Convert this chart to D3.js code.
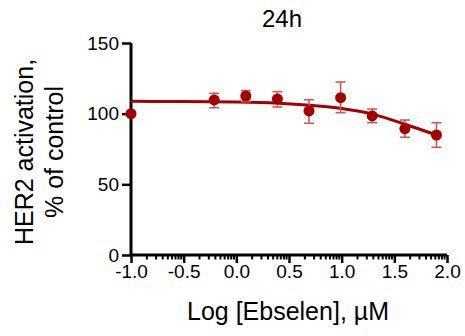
<!DOCTYPE html>
<html>
<head>
<meta charset="utf-8">
<script src="https://cdn.jsdelivr.net/npm/d3@7"></script>
<style>
  body { margin: 0; background: #fff; }
  text { font-family: "Liberation Sans", Arial, sans-serif; fill: #000; }
</style>
</head>
<body>
<div id="chart"></div>
<script>
// values
var logConc = [-1.0, -0.21, 0.09, 0.39, 0.69, 0.99, 1.29, 1.6, 1.9];
var meanVal = [100, 109.7, 112.5, 110.4, 101.9, 111.3, 98.4, 89.4, 84.9];
var errUp   = [0, 4.7, 3.8, 5.2, 8.0, 11.1, 4.9, 6.1, 8.7];
var errDown = [0, 5.5, 4.0, 5.7, 8.7, 10.6, 4.8, 6.1, 8.7];

// fitted curve
var fitX = [-1.0, -0.5, 0.0, 0.4, 0.7, 1.0, 1.3, 1.6, 1.9];
var fitY = [108.7, 108.6, 108.3, 107.4, 105.9, 103.6, 99.5, 92.5, 84.9];

var xTicks = [-1.0, -0.5, 0.0, 0.5, 1.0, 1.5, 2.0];
var yTicks = [0, 50, 100, 150];

var width = 465, height = 336;
var margin = { top: 43, left: 131, right: 18, bottom: 81 };

var svg = d3.select('#chart')
    .append('svg')
    .attr('width', width)
    .attr('height', height);

var x = d3.scaleLinear()
    .domain([-1, 2])
    .range([margin.left, width - margin.right]);

var y = d3.scaleLinear()
    .domain([0, 150])
    .range([height - margin.bottom, margin.top]);

var red = '#a30000';

// axes
var xAxis = d3.axisBottom(x)
    .tickValues(xTicks)
    .tickSize(8)
    .tickPadding(2)
    .tickFormat(function(d) { return d.toFixed(1); });

var gx = svg.append('g')
    .attr('transform', 'translate(0,' + y(0) + ')')
    .call(xAxis);

// log-like minor ticks inside every half unit
var minor = [];
xTicks.slice(0, -1).forEach(function(t) {
    d3.range(2, 10).forEach(function(k) {
        minor.push(t + 0.5 * Math.log10(k));
    });
});
gx.selectAll('.minor')
    .data(minor)
    .enter()
    .append('line')
    .attr('class', 'minor')
    .attr('x1', function(d) { return x(d); })
    .attr('x2', function(d) { return x(d); })
    .attr('y1', 0)
    .attr('y2', 4.5)
    .attr('stroke', '#000')
    .attr('stroke-width', 2);

var yAxis = d3.axisLeft(y)
    .tickValues(yTicks)
    .tickSize(9)
    .tickPadding(3);

var gy = svg.append('g')
    .attr('transform', 'translate(' + x(-1) + ',0)')
    .call(yAxis);

[gx, gy].forEach(function(g) {
    g.select('.domain')
        .attr('stroke', '#000')
        .attr('stroke-width', 3);
    g.selectAll('.tick line')
        .attr('stroke', '#000')
        .attr('stroke-width', 2.5);
    g.selectAll('.tick text')
        .style('font-size', '19px')
        .style('font-family', '"Liberation Sans", Arial, sans-serif')
        .attr('fill', '#000');
});
gx.select('.domain').attr('d', 'M' + x(-1) + ',0H' + x(2));
gy.select('.domain').attr('d', 'M0,' + y(150) + 'V' + y(0));

// fitted curve
var fit = fitX.map(function(d, i) { return [d, fitY[i]]; });
svg.append('path')
    .datum(fit)
    .attr('fill', 'none')
    .attr('stroke', red)
    .attr('stroke-width', 3)
    .attr('d', d3.line()
        .x(function(d) { return x(d[0]); })
        .y(function(d) { return y(d[1]); })
        .curve(d3.curveMonotoneX));

// error bars
var pts = logConc.map(function(d, i) {
    return { x: d, y: meanVal[i], hi: meanVal[i] + errUp[i], lo: meanVal[i] - errDown[i] };
});
var eb = svg.append('g')
    .attr('stroke', '#c95a5a')
    .attr('stroke-width', 1.6);
pts.filter(function(d) { return d.hi > d.y; }).forEach(function(d) {
    var cx = x(d.x);
    eb.append('line').attr('x1', cx).attr('x2', cx).attr('y1', y(d.hi)).attr('y2', y(d.lo));
    eb.append('line').attr('x1', cx - 5).attr('x2', cx + 5).attr('y1', y(d.hi)).attr('y2', y(d.hi));
    eb.append('line').attr('x1', cx - 5).attr('x2', cx + 5).attr('y1', y(d.lo)).attr('y2', y(d.lo));
});

// points
svg.selectAll('circle.pt')
    .data(pts)
    .enter()
    .append('circle')
    .attr('class', 'pt')
    .attr('cx', function(d) { return x(d.x); })
    .attr('cy', function(d) { return y(d.y); })
    .attr('r', 5.5)
    .attr('fill', red);

// title
svg.append('text')
    .attr('x', 282)
    .attr('y', 27)
    .attr('text-anchor', 'middle')
    .style('font-size', '24px')
    .text('24h');

// x label
svg.append('text')
    .attr('x', 288)
    .attr('y', 320)
    .attr('text-anchor', 'middle')
    .style('font-size', '25px')
    .text('Log [Ebselen], \u00b5M');

// y label
var yl = svg.append('text')
    .attr('transform', 'translate(33,152) rotate(-90)')
    .attr('text-anchor', 'middle')
    .style('font-size', '25px');
yl.append('tspan').attr('x', 0).attr('y', 0).text('HER2 activation,');
yl.append('tspan').attr('x', 0).attr('y', 30).text('% of control');
</script>
</body>
</html>
